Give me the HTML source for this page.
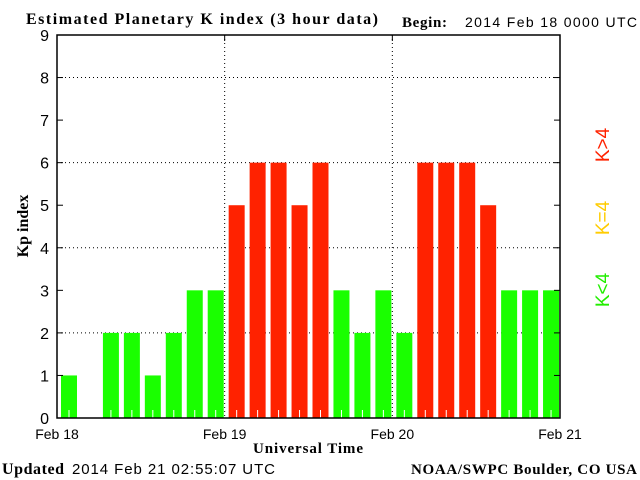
<!DOCTYPE html>
<html><head><meta charset="utf-8"><style>
body{margin:0;background:#fff;width:640px;height:480px;overflow:hidden}
svg{display:block}
text{font-family:"Liberation Sans",sans-serif;fill:#000}
.s{font-family:"Liberation Serif",serif;font-weight:bold}
</style></head><body>
<svg width="640" height="480">
<text class="s" x="26" y="24" font-size="16" textLength="352" lengthAdjust="spacing">Estimated Planetary K index (3 hour data)</text>
<text class="s" x="402" y="27" font-size="15" textLength="45">Begin:</text>
<text x="465" y="27" font-size="14" textLength="172">2014 Feb 18 0000 UTC</text>
<g id="grid"></g>
<g id="bars"></g>
<rect x="57" y="35" width="503" height="383" fill="none" stroke="#000" stroke-width="1.5"/>
<g id="axes"></g>
<text class="s" x="28" y="226" font-size="16" transform="rotate(-90 28 226)" text-anchor="middle">Kp index</text>
<text class="s" x="253" y="453" font-size="15" textLength="110">Universal Time</text>
<text class="s" x="2" y="474" font-size="16" textLength="62">Updated</text>
<text x="72" y="474" font-size="15" textLength="203">2014 Feb 21 02:55:07 UTC</text>
<text class="s" x="411" y="474" font-size="15" textLength="226" lengthAdjust="spacing">NOAA/SWPC Boulder, CO USA</text>
<text x="609" y="145" font-size="19" style="fill:#ff2200" transform="rotate(-90 609 145)" text-anchor="middle">K&gt;4</text>
<text x="609" y="218" font-size="19" style="fill:#ffcc00" transform="rotate(-90 609 218)" text-anchor="middle">K=4</text>
<text x="609" y="290" font-size="19" style="fill:#22ee00" transform="rotate(-90 609 290)" text-anchor="middle">K&lt;4</text>
</svg>
<script>
const kpValues=[1,0,2,2,1,2,3,3,5,6,6,5,6,3,2,3,2,6,6,6,5,3,3,3];
const dayLabels=["Feb 18","Feb 19","Feb 20","Feb 21"];
const yTicks=[0,1,2,3,4,5,6,7,8,9];
const NS="http://www.w3.org/2000/svg";
const x0=57,x1=560,y0=418,y1=35;
const yS=v=>y0-(v/9)*(y0-y1);
const xS=i=>x0+(i/24)*(x1-x0);
function mk(t,a,p){const e=document.createElementNS(NS,t);for(const k in a)e.setAttribute(k,a[k]);p.appendChild(e);return e;}
const grid=document.getElementById('grid'),bars=document.getElementById('bars'),axes=document.getElementById('axes');
yTicks.forEach(v=>{
  if(v%2===0&&v>0&&v<9){const l=mk('line',{x1:x0,x2:x1,y1:yS(v),y2:yS(v),stroke:'#000','stroke-dasharray':'1,3'},grid);
  
  }
  const t=mk('line',{x1:x0,x2:x0+6,y1:yS(v),y2:yS(v),stroke:'#000'},axes);
  
  
  const t2=mk('line',{x1:x1-6,x2:x1,y1:yS(v),y2:yS(v),stroke:'#000'},axes);
  
  
  const tx=mk('text',{x:49,y:yS(v)+6,'font-size':16,'text-anchor':'end'},axes);tx.textContent=v;
  
  
});
dayLabels.forEach((d,i)=>{
  const x=xS(i*8);
  if(i>0&&i<3){const l=mk('line',{x1:x,x2:x,y1:y1,y2:y0,stroke:'#000','stroke-dasharray':'1,3'},grid);
  
  
  const t=mk('line',{x1:x,x2:x,y1:y1,y2:y1+6,stroke:'#000'},axes);
  
  }
  const tx=mk('text',{x:x,y:439,'font-size':14,'text-anchor':'middle'},axes);tx.textContent=d;
  
  
});
kpValues.forEach((v,i)=>{
  if(v<=0)return;
  const c=v>4?'#ff2200':(v===4?'#ffcc00':'#1aff00');
  const x=xS(i)+4,w=16;
  const r=mk('rect',{x:x,y:yS(v),width:w,height:y0-yS(v),fill:c},bars);
  
  
  const m=mk('line',{x1:x+w/2,x2:x+w/2,y1:y0-8,y2:y0,stroke:'#fff'},bars);
  
  
});
</script>
</body></html>
